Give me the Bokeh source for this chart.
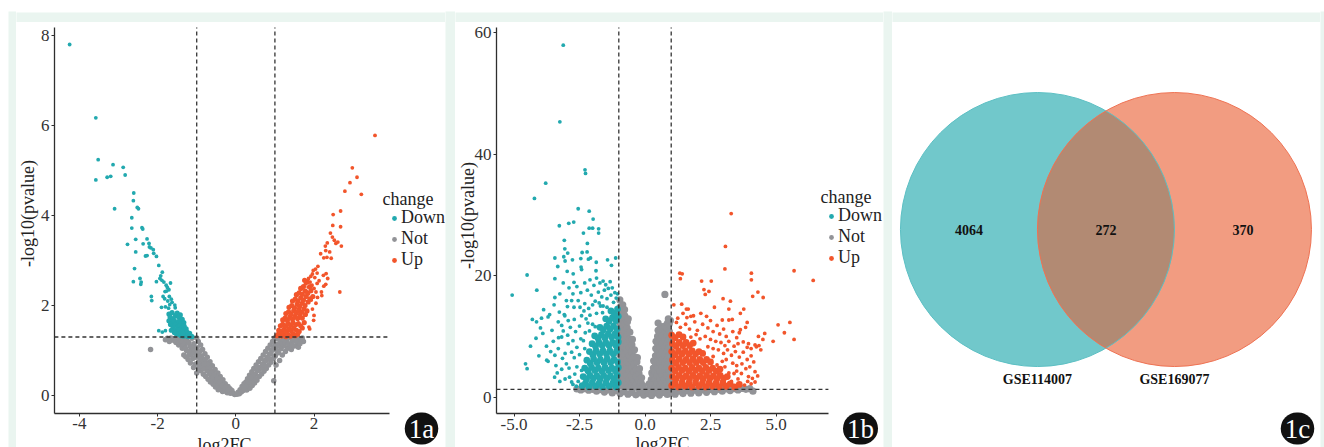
import math
import numpy as np
from bokeh.plotting import figure
from bokeh.models import (Range1d, FixedTicker, Label, Legend, LegendItem, Spacer)
from bokeh.layouts import row, column
from bokeh.core.properties import value
from bokeh.embed import file_html
from bokeh.resources import INLINE

FONT = "Liberation Serif"
MINT = "#EAF5F0"
TEAL = "#22A9AF"
GREY = "#929397"
ORANGE = "#F2552B"
INK = "#2e2e2e"

# ---------------- 1a data (log2FC, -log10 pvalue) ----------------
down_a = [(-4.25,7.8),(-3.58,6.17),(-3.52,5.24),(-3.58,4.79),(-3.29,4.85),(-3.2,4.87),(-3.14,5.13),(-3.1,4.15),
          (-2.88,5.07),(-2.83,4.9),(-2.61,4.5),(-2.62,4.33),(-2.52,4.18),(-2.49,4.15),(-2.66,3.95),(-2.66,3.72),
          (-2.4,3.73),(-2.38,3.7),(-2.77,3.36),(-2.56,3.47),(-2.27,3.48),(-2.37,3.37),(-2.56,3.19),(-2.22,3.38),
          (-2.21,3.3),(-2.17,3.28),(-2.11,3.24),(-2.1,3.16),(-2.27,3.11),(-2.31,3.1),(-2.03,3.09),(-2.59,2.82),
          (-1.97,2.89),(-1.88,2.74),(-1.92,2.66),(-2.45,2.6),(-2.42,2.52),(-2.43,2.47),(-2.62,2.53),(-1.94,2.6),
          (-1.89,2.56),(-1.84,2.52),(-2.03,2.53),(-1.78,2.45),(-1.75,2.4),(-1.71,2.35),(-1.77,2.32),(-1.81,2.31),
          (-1.67,2.5),(-1.7,2.2),(-2.16,2.2),(-2.15,2.11),(-1.86,2.2),(-1.82,2.15),(-1.74,2.1),(-1.65,2.14),
          (-1.63,2.07),(-1.69,2.02),(-1.56,2.01),(-1.9,1.96),(-1.8,1.97),(-1.72,1.94),(-1.55,1.95),(-1.97,1.44),
          (-1.8,1.44),(-1.88,1.41)]
down_a_core = [(-1.71,1.81),(-1.63,1.84),(-1.54,1.78),(-1.5,1.83),(-1.46,1.74),(-1.42,1.79),(-1.68,1.74),(-1.6,1.71),
               (-1.37,1.69),(-1.71,1.66),(-1.64,1.63),(-1.57,1.66),(-1.5,1.61),(-1.45,1.65),(-1.41,1.59),(-1.33,1.62),
               (-1.67,1.58),(-1.61,1.54),(-1.55,1.57),(-1.48,1.52),(-1.43,1.55),(-1.38,1.5),(-1.32,1.54),(-1.27,1.48),
               (-1.6,1.49),(-1.54,1.46),(-1.5,1.42),(-1.44,1.45),(-1.4,1.4),(-1.35,1.44),(-1.3,1.38),(-1.25,1.41),
               (-1.2,1.35),(-1.15,1.32),(-1.22,1.31),(-1.28,1.33),(-1.34,1.32),(-1.4,1.33),(-1.46,1.36),(-1.52,1.37),
               (-1.57,1.4),(-1.18,1.38),(-1.12,1.31),(-1.36,1.38),(-1.65,1.45)]
up_a = [(3.56,5.78),(2.98,5.06),(3.1,4.85),(2.92,4.73),(2.79,4.54),(3.21,4.47),(2.49,4.02),(2.68,4.1),(2.48,3.78),
        (2.68,3.75),(2.42,3.61),(2.47,3.52),(2.52,3.45),(2.56,3.38),(2.61,3.41),(2.7,3.32),(2.34,3.39),(2.29,3.32),
        (2.17,3.15),(2.3,3.22),(2.4,3.19),(2.25,3.06),(2.33,3.07),(2.44,3.05),(2.1,2.87),(1.98,2.78),(2.04,2.81),
        (2.08,2.72),(1.96,2.7),(1.92,2.65),(2.24,2.67),(2.31,2.71),(2.35,2.6),(2.66,2.3),(2.3,2.47),(2.25,2.43),
        (2.19,2.3),(2.2,2.22),(2.13,2.55),(2.08,2.49),(2.02,2.62),(1.86,2.6),(1.9,2.52),(1.95,2.45),(2.0,2.38),
        (1.85,2.41),(1.78,2.48),(1.8,2.32),(2.05,2.3),(1.99,1.67),(1.87,1.52),(1.89,1.48),(2.0,1.78),(2.05,2.05),
        (1.96,1.92),(1.93,2.12),(2.09,2.18)]
up_a_core = [(1.05,1.33),(1.1,1.38),(1.16,1.32),(1.22,1.36),(1.28,1.31),(1.34,1.35),(1.4,1.32),(1.46,1.37),(1.52,1.33),
             (1.58,1.36),(1.1,1.45),(1.17,1.42),(1.23,1.47),(1.3,1.43),(1.36,1.48),(1.42,1.44),(1.48,1.5),(1.55,1.45),
             (1.62,1.42),(1.7,1.5),(1.14,1.55),(1.2,1.58),(1.27,1.54),(1.33,1.6),(1.4,1.56),(1.46,1.62),(1.53,1.57),
             (1.6,1.6),(1.66,1.55),(1.75,1.62),(1.2,1.68),(1.26,1.72),(1.32,1.67),(1.38,1.74),(1.45,1.7),(1.51,1.76),
             (1.58,1.71),(1.64,1.78),(1.7,1.72),(1.78,1.8),(1.28,1.82),(1.35,1.86),(1.41,1.81),(1.48,1.88),(1.55,1.84),
             (1.61,1.9),(1.68,1.85),(1.74,1.92),(1.82,1.88),(1.36,1.96),(1.43,2.0),(1.5,1.95),(1.57,2.03),(1.63,1.98),
             (1.7,2.05),(1.77,2.0),(1.85,2.08),(1.45,2.1),(1.52,2.14),(1.59,2.1),(1.66,2.17),(1.73,2.12),(1.8,2.2),
             (1.9,2.15),(1.55,2.24),(1.62,2.28),(1.7,2.25),(1.77,2.32),(1.84,2.27),(1.92,2.33),(1.66,2.38),(1.73,2.42),
             (1.9,2.42),(1.97,2.2),(1.83,2.52),(1.76,2.56)]
not_a = [(-0.03,0.02),(-0.06,0.05),(-0.1,0.06),(-0.1,0.11),(-0.14,0.05),(-0.15,0.15),(-0.18,0.09),(-0.2,0.2),
         (-0.22,0.06),(-0.24,0.14),(-0.27,0.26),(-0.28,0.1),(-0.31,0.2),(-0.33,0.35),(-0.34,0.09),(-0.36,0.28),
         (-0.38,0.16),(-0.4,0.42),(-0.41,0.22),(-0.43,0.33),(-0.45,0.13),(-0.46,0.5),(-0.48,0.27),(-0.5,0.4),
         (-0.52,0.19),(-0.53,0.58),(-0.55,0.33),(-0.57,0.47),(-0.58,0.25),(-0.6,0.66),(-0.62,0.4),(-0.63,0.55),
         (-0.65,0.3),(-0.66,0.75),(-0.68,0.48),(-0.7,0.62),(-0.71,0.36),(-0.73,0.85),(-0.74,0.55),(-0.76,0.72),
         (-0.77,0.42),(-0.79,0.93),(-0.8,0.62),(-0.82,0.8),(-0.83,0.47),(-0.85,1.02),(-0.86,0.7),(-0.88,0.88),
         (-0.89,0.55),(-0.9,1.12),(-0.92,0.78),(-0.93,0.97),(-0.95,0.6),(-0.96,1.2),(-0.97,0.87),(-0.99,1.06),
         (-1.0,0.5),(-1.0,1.28),(-1.03,0.7),(-1.05,0.95),(-1.07,1.15),(-1.08,0.62),(-1.1,0.82),(-1.12,1.27),
         (-1.14,1.04),(-1.16,0.72),(-1.18,0.9),(-1.2,1.18),(-1.22,0.8),(-1.25,1.28),(-1.26,1.0),(-1.28,0.86),
         (-1.3,1.12),(-1.33,0.9),(-1.35,1.25),(-1.37,1.05),(-1.4,1.17),(-1.43,1.28),(-1.46,1.12),(-1.5,1.22),
         (-1.55,1.27),(-1.62,1.25),(-1.7,1.2),(-1.8,1.24),(-2.18,1.02),
         (-0.84,0.6),(-0.87,0.8),(-0.91,0.66),(-0.94,0.88),(-0.98,0.7),(-1.02,0.85),(-1.06,1.05),(-1.1,1.0),
         (-1.13,0.92),(-1.17,1.1),(-1.21,0.98),(-1.24,1.18),(-1.29,1.05),(-1.32,1.2),(-1.36,1.15),(-1.41,1.22),
         (-1.48,1.25),(-1.53,1.18),(-1.58,1.22),(-1.66,1.28),(-1.75,1.27),(-0.62,0.5),(-0.67,0.62),(-0.72,0.7),
         (-0.78,0.8),(-0.81,0.7),(-0.55,0.45),(-0.47,0.38),(-0.4,0.3),(-0.34,0.22),(-0.27,0.18),(-0.2,0.13),
         (0.03,0.03),(0.06,0.07),(0.09,0.04),(0.11,0.13),(0.14,0.08),(0.16,0.2),(0.19,0.11),(0.21,0.26),(0.23,0.15),
         (0.26,0.3),(0.28,0.12),(0.3,0.37),(0.32,0.22),(0.35,0.45),(0.36,0.16),(0.38,0.3),(0.41,0.53),(0.42,0.22),
         (0.44,0.38),(0.46,0.6),(0.48,0.28),(0.5,0.48),(0.52,0.68),(0.54,0.34),(0.56,0.55),(0.58,0.75),(0.6,0.42),
         (0.62,0.62),(0.64,0.82),(0.66,0.48),(0.68,0.7),(0.7,0.9),(0.72,0.54),(0.74,0.78),(0.76,0.98),(0.78,0.6),
         (0.8,0.85),(0.82,1.05),(0.84,0.68),(0.86,0.92),(0.88,1.12),(0.9,0.74),(0.92,1.0),(0.94,1.2),(0.96,0.82),
         (0.97,0.33),(0.98,1.08),(0.99,1.28),(1.01,0.88),(1.03,0.68),(1.05,1.14),(1.07,1.26),(1.09,0.95),(1.12,0.78),
         (1.14,1.2),(1.16,1.04),(1.19,0.9),(1.22,1.27),(1.24,1.1),(1.27,0.98),(1.3,1.2),(1.33,1.05),(1.36,1.28),
         (1.39,1.14),(1.42,1.02),(1.45,1.22),(1.5,1.1),(1.53,1.28),(1.58,1.18),(1.62,1.26),(1.6,1.07),(1.68,1.22),
         (1.73,1.2),(0.6,0.58),(0.66,0.62),(0.72,0.68),(0.78,0.78),(0.84,0.82),(0.9,0.92),(0.95,1.02),(1.0,1.1),
         (1.04,1.0),(1.08,1.1),(1.13,1.1),(1.18,1.15),(1.26,1.18),(1.35,1.15),(1.44,1.12),(1.48,1.25),(1.55,1.2),
         (0.5,0.38),(0.44,0.46),(0.38,0.4),(0.32,0.3),(0.26,0.2),(0.2,0.18),(0.55,0.62),(1.7,1.28),(1.64,1.15)]

# ---------------- 1b data ----------------
down_b = [(-3.12,57.9),(-3.25,45.3),(-2.29,37.4),(-2.27,36.8),(-3.79,35.2),(-4.22,32.7),(-2.55,31.0),(-2.13,30.6),
          (-1.98,29.3),(-3.27,28.2),(-2.91,28.6),(-2.72,28.8),(-2.35,27.0),(-2.13,27.8),(-2.0,27.8),(-1.77,27.7),
          (-1.77,27.0),(-3.08,25.8),(-2.2,25.3),(-3.06,24.4),(-2.4,23.8),(-2.21,23.9),(-2.95,23.7),(-3.1,23.1),
          (-3.05,22.4),(-3.44,22.9),(-2.77,22.6),(-2.45,22.8),(-2.16,22.7),(-2.08,22.9),(-3.33,21.5),(-2.97,20.7),
          (-2.74,20.3),(-2.44,21.4),(-2.42,21.0),(-1.86,22.2),(-1.87,20.8),(-1.43,22.6),(-1.28,21.7),(-1.12,22.9),
          (-4.5,20.1),(-3.44,19.5),(-3.12,18.8),(-2.71,18.9),(-4.13,17.6),(-5.07,16.8),
          (-3.25,17.0),(-3.44,16.4),(-3.47,15.2),(-3.0,15.9),(-2.96,14.9),(-2.8,15.9),(-2.71,14.8),(-2.55,15.9),
          (-2.48,14.8),(-2.6,18.2),(-2.45,17.2),(-2.3,18.8),(-2.2,17.6),(-2.1,19.3),(-2.05,16.8),(-1.95,18.4),
          (-1.85,19.6),(-1.78,17.3),(-1.72,18.8),(-1.65,16.5),(-1.6,19.1),(-1.55,17.6),(-1.5,18.5),(-1.45,16.2),
          (-1.4,17.9),(-1.33,19.0),(-1.3,16.8),(-1.25,18.0),(-1.2,15.6),(-1.15,17.2),(-1.1,16.3),(-1.05,17.0),
          (-1.9,15.8),(-2.0,15.2),(-1.75,15.5),(-1.6,15.0),(-1.45,14.8),(-2.3,15.4),(-2.15,14.6),(-2.9,18.0),
          (-2.75,17.0),(-3.87,14.4),(-4.3,12.8),(-4.14,12.4),(-3.95,13.0),(-3.7,13.2),(-3.64,13.6),(-3.99,11.4),
          (-4.16,9.7),(-4.37,8.4),(-4.56,5.5),(-4.5,4.7),(-3.76,8.4),(-3.7,5.9),(-3.75,6.1),(-3.44,6.9),(-3.31,8.0),
          (-3.27,14.0),(-3.08,13.6),(-3.31,12.4),(-3.18,11.8),(-3.12,10.9),(-3.18,9.9),(-3.06,13.4),(-2.93,12.6),
          (-3.4,5.2),(-3.35,4.0),(-3.18,4.6),(-3.0,5.5),(-2.88,3.3),(-2.8,2.5),(-2.93,8.8),(-2.8,7.4),(-2.42,13.4),
          (-2.33,14.2),(-3.5,9.2),(-3.55,11.0),(-3.3,9.8),(-3.05,7.2),(-3.15,6.4),(-2.95,10.2),(-2.85,11.5),
          (-2.7,12.8),(-2.65,10.8),(-2.75,9.3),(-2.6,8.2),(-2.7,6.5),(-2.6,5.0),(-2.68,3.8),(-2.55,2.6),(-2.5,11.7),
          (-2.45,9.6),(-2.5,7.0),(-2.42,4.4),(-2.9,4.8),(-3.05,3.0),(-2.75,2.1),(-2.62,1.8),(-3.6,7.5),(-3.9,10.5),
          (-4.05,6.8),(-3.45,3.3),(-3.25,2.6),(-2.35,9.3),(-2.28,10.6),(-2.18,12.2),(-2.1,13.5),(-2.25,12.9),
          (-2.0,12.0),(-1.85,13.8),(-1.7,15.0),(-2.12,10.9),(-2.3,8.0),(-1.9,11.6),(-1.62,13.9)]
down_b_core = [(-2.4,1.9),(-2.27,2.3),(-2.14,1.7),(-2.01,2.4),(-1.88,1.8),(-1.75,2.3),(-1.62,1.7),(-1.49,2.4),
               (-1.36,1.8),(-1.23,2.3),(-1.1,1.7),(-1.02,2.4),(-2.36,3.4),(-2.23,3.0),(-2.1,3.6),(-1.97,3.1),
               (-1.84,3.5),(-1.71,3.0),(-1.58,3.6),(-1.45,3.1),(-1.32,3.5),(-1.19,3.0),(-1.06,3.6),(-2.3,4.8),
               (-2.17,4.3),(-2.04,4.9),(-1.91,4.4),(-1.78,4.8),(-1.65,4.3),(-1.52,4.9),(-1.39,4.4),(-1.26,4.8),
               (-1.13,4.3),(-1.02,4.9),(-2.22,6.1),(-2.09,5.6),(-1.96,6.3),(-1.83,5.7),(-1.7,6.2),(-1.57,5.7),
               (-1.44,6.3),(-1.31,5.7),(-1.18,6.2),(-1.05,5.8),(-2.12,7.5),(-1.99,7.0),(-1.86,7.6),(-1.73,7.1),
               (-1.6,7.6),(-1.47,7.1),(-1.34,7.6),(-1.21,7.1),(-1.08,7.6),(-2.02,8.8),(-1.89,8.4),(-1.76,9.0),
               (-1.63,8.5),(-1.5,9.0),(-1.37,8.5),(-1.24,9.0),(-1.11,8.5),(-1.02,9.1),(-1.92,10.1),(-1.79,9.7),
               (-1.66,10.3),(-1.53,9.8),(-1.4,10.4),(-1.27,9.9),(-1.14,10.4),(-1.03,9.9),(-1.72,11.5),(-1.59,11.1),
               (-1.46,11.7),(-1.33,11.2),(-1.2,11.7),(-1.07,11.2),(-1.5,12.9),(-1.37,12.5),(-1.24,13.1),
               (-1.11,12.6),(-1.02,13.3),(-1.3,14.2),(-1.17,13.8),(-1.05,14.5)]
up_b = [(3.29,30.2),(3.07,24.8),(3.05,21.1),(1.33,20.4),(1.42,20.3),(1.35,19.5),(2.16,19.1),(2.53,19.1),(4.06,20.4),
        (4.06,19.3),(5.69,20.8),(6.42,19.2),(2.25,17.7),(2.44,17.4),(2.3,16.9),(4.31,17.3),(4.51,16.4),(4.11,16.6),
        (2.98,16.2),(3.26,15.8),(1.1,15.2),(1.4,15.3),(1.58,14.5),(1.65,14.5),(1.45,13.8),(1.85,13.4),(1.75,13.3),
        (2.13,13.8),(2.35,13.3),(2.65,14.8),(3.2,14.5),(3.64,13.8),(3.77,14.5),(2.95,12.7),(3.2,12.7),(3.33,12.8),
        (3.9,12.3),(3.84,11.5),(3.64,11.1),(5.08,11.9),(5.53,12.3),(5.32,10.6),(5.69,9.5),(4.89,9.2),(4.57,10.5),
        (4.5,9.5),(4.33,10.0),(4.25,8.3),(4.35,8.5),(4.42,7.8),(3.95,8.8),(3.9,8.2),(4.05,8.0),(4.2,8.6),
        (1.2,12.3),(1.35,11.5),(1.55,12.0),(1.7,11.2),(1.9,12.4),(2.0,11.0),(2.2,12.0),(2.4,11.4),(2.5,12.6),
        (2.6,10.8),(2.75,11.8),(2.85,10.4),(3.0,11.2),(3.1,10.0),(3.35,10.8),(3.5,9.8),(3.6,10.6),(2.3,10.0),
        (2.5,9.5),(2.7,9.2),(2.9,9.0),(3.05,8.5),(3.2,9.2),(3.4,8.4),(3.55,8.8),(3.75,9.1),(2.8,7.8),(3.0,7.2),
        (3.15,7.8),(3.3,6.9),(3.45,7.5),(3.6,6.6),(3.75,7.4),(3.9,6.2),(4.05,6.8),(4.15,5.8),(3.1,6.2),(3.35,5.6),
        (3.5,5.2),(3.7,5.5),(3.85,4.7),(4.0,5.0),(4.2,4.2),(3.5,4.3),(3.68,3.9),(3.95,3.4),(4.1,3.1),(4.2,2.5),
        (4.3,3.5),(4.05,2.2),(3.92,2.6),(2.6,6.7),(2.75,5.3),(2.95,5.9),(3.05,5.0),(3.2,4.0),(3.4,3.9),(2.1,9.6),
        (1.95,10.3),(1.75,9.9),(2.4,8.3),(2.6,8.0),(1.25,13.0),(1.6,13.1),(3.8,2.0),(3.3,2.6),(3.55,3.0)]
up_b_core = [(1.02,1.9),(1.15,2.3),(1.28,1.7),(1.41,2.4),(1.54,1.8),(1.67,2.3),(1.8,1.7),(1.93,2.4),(2.06,1.8),
             (2.19,2.3),(2.32,1.7),(2.45,2.4),(2.58,1.8),(2.71,2.3),(2.84,1.7),(2.97,2.4),(3.1,1.8),(3.25,2.2),
             (3.42,1.7),(3.6,2.1),(1.05,3.4),(1.18,3.0),(1.31,3.6),(1.44,3.1),(1.57,3.5),(1.7,3.0),(1.83,3.6),
             (1.96,3.1),(2.09,3.5),(2.22,3.0),(2.35,3.6),(2.48,3.1),(2.61,3.5),(2.74,3.0),(2.87,3.6),(3.0,3.1),
             (3.14,3.4),(1.02,4.8),(1.15,4.3),(1.28,4.9),(1.41,4.4),(1.54,4.8),(1.67,4.3),(1.8,4.9),(1.93,4.4),
             (2.06,4.8),(2.19,4.3),(2.32,4.9),(2.45,4.4),(2.58,4.8),(2.72,4.3),(2.86,4.6),(1.05,6.1),(1.18,5.6),
             (1.31,6.3),(1.44,5.7),(1.57,6.2),(1.7,5.7),(1.83,6.3),(1.96,5.7),(2.09,6.2),(2.22,5.7),(2.35,6.2),
             (2.5,5.8),(1.02,7.5),(1.15,7.0),(1.28,7.6),(1.41,7.1),(1.54,7.6),(1.67,7.1),(1.8,7.6),(1.93,7.1),
             (2.06,7.5),(2.2,7.2),(1.05,8.8),(1.18,8.4),(1.31,9.0),(1.44,8.5),(1.57,9.0),(1.7,8.5),(1.84,8.9),
             (1.02,10.2),(1.15,9.8),(1.3,10.3),(1.45,9.9)]
not_b = [(-2.6,1.35),(-2.45,1.2),(-2.3,1.4),(-2.15,1.15),(-2.0,1.3),(-1.85,1.0),(-1.7,1.25),(-1.55,0.85),(-1.4,1.2),
         (-1.25,0.7),(-1.1,1.1),(-1.25,1.4),(-0.95,0.6),(-0.8,0.9),(-0.65,0.5),(-0.5,0.8),(-0.35,0.4),(-0.2,0.7),
         (-0.05,0.35),(0.1,0.6),(0.25,0.3),(0.4,0.7),(0.55,0.35),(0.7,0.8),(0.85,0.45),(1.0,0.9),(1.15,0.5),(1.3,1.0),
         (1.45,0.6),(1.6,1.1),(1.75,0.65),(1.9,1.15),(2.05,0.7),(2.2,1.2),(2.35,0.8),(2.5,1.25),(2.65,0.9),(2.8,1.3),
         (2.95,1.0),(3.1,1.35),(3.25,1.1),(3.4,1.4),(3.55,1.2),(3.7,1.45),(3.85,1.3),(4.0,1.4),(4.12,1.0),(1.15,1.35),
         (1.45,1.4),(1.75,1.45),(2.05,1.45),(2.35,1.45),(2.65,1.5),(2.95,1.5),(3.25,1.5),(0.1,1.2),(-0.2,1.3),
         (0.25,0.95),(0.55,1.1),(0.85,1.3),
         (-0.97,1.8),(-0.97,3.1),(-0.96,4.4),(-0.97,5.7),(-0.96,7.0),(-0.97,8.3),(-0.96,9.6),(-0.97,10.9),
         (-0.96,12.2),(-0.97,13.5),(-0.96,14.8),(-0.96,16.0),(-0.87,2.4),(-0.88,3.7),(-0.87,5.0),(-0.88,6.3),
         (-0.87,7.6),(-0.88,8.9),(-0.87,10.2),(-0.88,11.5),(-0.87,12.8),(-0.86,14.0),(-0.85,15.2),(-0.78,1.8),
         (-0.79,3.1),(-0.78,4.4),(-0.79,5.7),(-0.78,7.0),(-0.79,8.3),(-0.78,9.6),(-0.79,10.9),(-0.77,12.2),
         (-0.77,13.4),(-0.78,14.4),(-0.69,2.3),(-0.7,3.6),(-0.69,4.9),(-0.7,6.2),(-0.69,7.5),(-0.7,8.8),
         (-0.69,10.1),(-0.68,11.4),(-0.67,12.4),(-0.64,12.9),(-0.6,1.7),(-0.61,3.0),(-0.6,4.3),(-0.61,5.6),
         (-0.6,6.9),(-0.6,8.2),(-0.59,9.5),(-0.58,10.7),(-0.51,2.2),(-0.52,3.5),(-0.51,4.8),(-0.52,6.1),
         (-0.51,7.4),(-0.5,8.6),(-0.48,9.5),(-0.42,1.6),(-0.43,2.9),(-0.42,4.2),(-0.42,5.5),(-0.41,6.7),(-0.4,7.8),
         (-0.33,2.1),(-0.34,3.4),(-0.33,4.6),(-0.31,5.8),(-0.29,6.5),(-0.24,1.5),(-0.25,2.8),(-0.23,3.9),
         (-0.21,4.7),(-0.16,1.3),(-0.15,2.4),(-0.13,3.2),(-0.09,1.2),(-0.08,1.9),
         (0.14,1.3),(0.16,2.2),(0.22,1.6),(0.24,2.9),(0.26,4.0),(0.3,2.2),(0.31,3.5),(0.32,4.8),(0.33,6.0),
         (0.38,1.6),(0.38,2.9),(0.39,4.2),(0.4,5.5),(0.4,6.8),(0.41,8.0),(0.42,9.2),(0.47,2.3),(0.47,3.6),
         (0.48,4.9),(0.48,6.2),(0.48,7.5),(0.48,8.8),(0.48,10.0),(0.5,11.0),(0.56,1.7),(0.56,3.0),(0.57,4.3),
         (0.57,5.6),(0.57,6.9),(0.57,8.2),(0.57,9.5),(0.58,10.7),(0.6,11.6),(0.65,2.3),(0.65,3.6),(0.66,4.9),
         (0.66,6.2),(0.66,7.5),(0.66,8.8),(0.66,10.1),(0.67,11.2),(0.74,1.7),(0.74,3.0),(0.75,4.3),(0.75,5.6),
         (0.75,6.9),(0.75,8.2),(0.75,9.5),(0.76,10.8),(0.75,11.7),(0.83,2.3),(0.83,3.6),(0.84,4.9),(0.84,6.2),
         (0.84,7.5),(0.84,8.8),(0.84,10.1),(0.85,11.3),(0.86,12.2),(0.92,1.7),(0.92,3.0),(0.93,4.3),(0.93,5.6),
         (0.93,6.9),(0.93,8.2),(0.93,9.5),(0.93,10.8),(0.92,12.0),(0.97,2.4),(0.97,5.0),(0.97,7.5),(0.97,10.0),
         (0.97,12.6),(0.76,16.9),(0.89,12.9),(0.5,12.2)]

# thresholds
fc_cut = 1.0
p_cut = 1.3

# Venn
set_names = ["GSE114007", "GSE169077"]
venn_counts = [4064, 272, 370]   # only A, A&B, only B

# tick labels
xticks_a = [-4, -2, 0, 2]
yticks_a = [0, 2, 4, 6, 8]
xticks_b = [-5.0, -2.5, 0.0, 2.5, 5.0]
xlabels_b = ["-5.0", "-2.5", "0.0", "2.5", "5.0"]
yticks_b = [0, 20, 40, 60]

PANEL_H = 425
NAN = float("nan")


def xs(lst):
    return [p[0] for p in lst]


def ys(lst):
    return [p[1] for p in lst]


def block(w, h, color):
    f = figure(width=w, height=h, toolbar_location=None, output_backend="svg",
               x_axis_type=None, y_axis_type=None, min_border=0,
               outline_line_color=None, background_fill_color=color, border_fill_color=color)
    f.grid.visible = False
    return f


def badge(p, x, y, txt):
    p.add_layout(Label(x=x, y=y, x_units="screen", y_units="screen", text=txt,
                       text_font=FONT, text_font_size="27px", text_color="white",
                       text_align="center", text_baseline="middle",
                       background_fill_color="#111111",
                       border_radius=17, padding=dict(left=4, right=4, top=1, bottom=1)))


def volcano(w, view_x, view_y, bx, by, xt, xlab, yt, groups, legend_loc, title_pos, ylab_pos, xlab_pos,
            badge_txt, s_small, s_big, s_grey):
    # the frame covers the whole white panel; axes are pinned at the data-area edges
    p = figure(width=w, height=PANEL_H, x_range=Range1d(*view_x), y_range=Range1d(*view_y),
               toolbar_location=None, output_backend="svg", min_border=0,
               outline_line_color=None, background_fill_color="white", border_fill_color="white")
    p.grid.visible = False
    p.xaxis.fixed_location = by[0]
    p.xaxis.bounds = bx
    p.yaxis.fixed_location = bx[0]
    p.yaxis.bounds = by
    for ax in (p.xaxis[0], p.yaxis[0]):
        ax.axis_line_color = INK
        ax.axis_line_width = 1.3
        ax.major_tick_line_color = INK
        ax.major_tick_out = 3
        ax.major_tick_in = 0
        ax.minor_tick_line_color = None
        ax.major_label_text_font = FONT
        ax.major_label_text_font_size = "17px"
        ax.major_label_text_color = "#333333"
        ax.major_label_standoff = 2
    p.xaxis.ticker = FixedTicker(ticks=xt)
    p.xaxis.major_label_overrides = {t: l for t, l in zip(xt, xlab)}
    p.yaxis.ticker = FixedTicker(ticks=yt)
    p.yaxis.major_label_overrides = {t: str(t) for t in yt}

    legend_keys = {}
    for name, color, small, big in groups:
        if name == "Not":
            p.scatter(xs(small), ys(small), size=s_grey, fill_color=color, line_color=None)
        else:
            if big:
                p.scatter(xs(big), ys(big), size=s_big, fill_color=color, line_color=None)
            p.scatter(xs(small), ys(small), size=s_small, fill_color=color, line_color=None)
        # small key marker for the legend (an undrawable NaN point)
        legend_keys[name] = p.scatter([NAN], [NAN], size=2.8, fill_color=color, line_color=None)

    # threshold lines, limited to the data area
    p.segment(x0=[-fc_cut, fc_cut], y0=[by[0], by[0]], x1=[-fc_cut, fc_cut], y1=[by[1], by[1]],
              line_color="#333333", line_width=1.3, line_dash="4 3")
    p.segment(x0=[bx[0]], y0=[p_cut], x1=[bx[1]], y1=[p_cut],
              line_color="#333333", line_width=1.3, line_dash="4 3")

    leg = Legend(items=[LegendItem(label=n, renderers=[legend_keys[n]]) for n in ("Down", "Not", "Up")],
                 location=legend_loc)
    leg.padding = 0
    leg.margin = 0
    leg.spacing = 0
    leg.label_height = 20
    leg.glyph_height = 20
    leg.glyph_width = 12
    leg.label_standoff = 1
    leg.border_line_color = None
    leg.background_fill_alpha = 0
    leg.label_text_font = FONT
    leg.label_text_font_size = "18px"
    leg.label_text_color = "#222222"
    p.add_layout(leg)
    p.add_layout(Label(x=title_pos[0], y=title_pos[1], x_units="screen", y_units="screen",
                       text="change", text_font=FONT, text_font_size="18px", text_color="#222222",
                       text_align="left", text_baseline="middle"))

    p.add_layout(Label(x=ylab_pos[0], y=ylab_pos[1], x_units="screen", y_units="screen",
                       text="-log10(pvalue)", angle=math.pi / 2, text_font=FONT, text_font_size="18px",
                       text_color="#222222", text_align="center", text_baseline="middle"))
    p.add_layout(Label(x=xlab_pos[0], y=xlab_pos[1], x_units="screen", y_units="screen",
                       text="log2FC", text_font=FONT, text_font_size="18px",
                       text_color="#222222", text_align="center", text_baseline="top"))
    badge(p, 405, 19, badge_txt)
    return p


# ---- 1a  (panel 429 x 425)
p1 = volcano(429, (-5.609, 5.363), (-1.156, 8.289), (-4.64, 3.93), (-0.40, 8.18),
             xticks_a, [str(t) for t in xticks_a], yticks_a,
             [("Not", GREY, not_a, None), ("Down", TEAL, down_a, down_a_core), ("Up", ORANGE, up_a, up_a_core)],
             (372, 177), (366, 249), (11, 234), (208, 13), "1a", 3.8, 5.2, 5.5)
# ---- 1b  (panel 428 x 425)
p2 = volcano(428, (-7.233, 9.103), (-8.27, 61.63), (-5.67, 7.0), (-2.68, 60.81),
             xticks_b, xlabels_b, yticks_b,
             [("Not", GREY, not_b, None), ("Down", TEAL, down_b, down_b_core), ("Up", ORANGE, up_b, up_b_core)],
             (370, 179), (365, 251), (12, 232), (207, 14), "1b", 3.8, 6.8, 7.2)

# ---- 1c Venn (panel 428 x 425)
R = 1.0
cA, cB = -R / 2, R / 2
p3 = figure(width=428, height=PANEL_H, x_range=Range1d(-1.558, 1.566), y_range=Range1d(-1.591, 1.511),
            toolbar_location=None, output_backend="svg", x_axis_type=None, y_axis_type=None,
            min_border=0, outline_line_color=None, background_fill_color="white", border_fill_color="white")
p3.grid.visible = False
p3.circle(x=[cA], y=[0], radius=R, fill_color="#71C8CB", line_color=None)
p3.circle(x=[cB], y=[0], radius=R, fill_color="#F29C81", line_color=None)
h = math.acos((cB - cA) / 2 / R)
tA = np.linspace(-h, h, 80)
tB = np.linspace(math.pi - h, math.pi + h, 80)
lens_x = np.concatenate([cA + R * np.cos(tA), cB + R * np.cos(tB)])
lens_y = np.concatenate([R * np.sin(tA), R * np.sin(tB)])
p3.patch(lens_x, lens_y, fill_color="#B28A73", line_color=None)
p3.circle(x=[cA], y=[0], radius=R, fill_color=None, line_color="#5CBFC3", line_width=1)
p3.circle(x=[cB], y=[0], radius=R, fill_color=None, line_color="#EE7253", line_width=1)
p3.text(x=[cA - R / 2, 0, cB + R / 2], y=[0, 0, 0], text=[str(c) for c in venn_counts],
        text_font=value(FONT), text_font_style="bold", text_font_size="14px", text_color="#111111",
        text_align="center", text_baseline="middle")
p3.text(x=[cA, cB], y=[-1.095 * R, -1.095 * R], text=set_names,
        text_font=value(FONT), text_font_style="bold", text_font_size="14px", text_color="#111111",
        text_align="center", text_baseline="middle")
badge(p3, 405, 19, "1c")

layout = column(
    Spacer(width=1324, height=11),
    row(
        Spacer(width=8, height=436),
        block(8, 436, MINT),
        column(block(429, 11, MINT), p1),
        block(10, 436, MINT),
        column(block(428, 11, MINT), p2),
        block(9, 436, MINT),
        column(block(428, 11, MINT), p3),
        block(4, 436, MINT),
    ),
)

open("out.html", "w").write(file_html(layout, INLINE))
